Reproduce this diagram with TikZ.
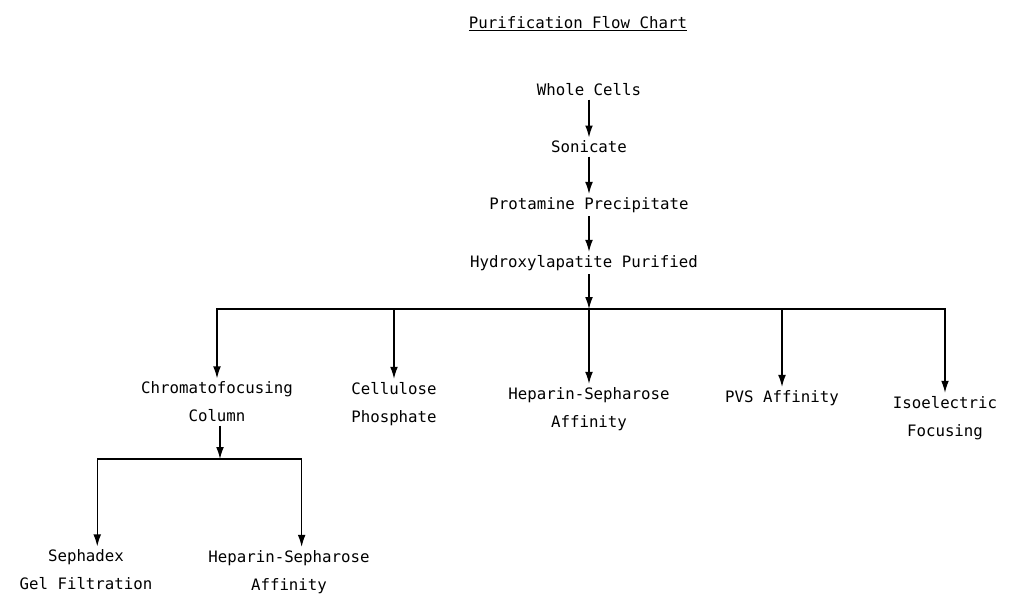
\documentclass[tikz,border=0pt]{standalone}
\usepackage{fontspec}
\setmonofont{DejaVu Sans Mono}
\usetikzlibrary{arrows.meta}

\begin{document}
\begin{tikzpicture}[x=0.025cm, y=-0.025cm, >={Latex[length=8.5pt,width=5.5pt]}, line width=0.9pt,
    step node/.style={font=\ttfamily\fontsize{11.2}{20}\selectfont, align=center, inner sep=2pt}]

    \useasboundingbox (0,0) rectangle (1020,598);

    \node[step node] at (578, 24) (title) {\underline{Purification Flow Chart}};

    \node[step node] at (589, 90) (whole) {Whole Cells};
    \node[step node] at (589, 147) (son) {Sonicate};
    \node[step node] at (589, 205) (prot) {Protamine Precipitate};
    \node[step node] at (584, 263) (hyd) {Hydroxylapatite Purified};

    \node[step node] at (217, 402) (chrom) {Chromatofocusing\\Column};
    \node[step node] at (394, 404) (cell) {Cellulose\\Phosphate};
    \node[step node] at (589, 409) (hep) {Heparin-Sepharose\\Affinity};
    \node[step node] at (782, 398) (pvs) {PVS Affinity};
    \node[step node] at (945, 418) (iso) {Isoelectric\\Focusing};

    \node[step node] at (86, 570) (seph) {Sephadex\\Gel Filtration};
    \node[step node] at (289, 572) (hep2) {Heparin-Sepharose\\Affinity};

    \coordinate (split) at (589, 309);
    \coordinate (split2) at (220, 459);

    \path[->] (whole) edge (son);
    \path[->] (son) edge (prot);
    \path[->] (prot.south -| son) edge (hyd.north -| son);
    \path[->] (hyd.south -| son) edge (split);

    \draw[->] (split) -| (chrom);
    \draw[->] (split) -| (cell);
    \draw[->] (split) -- (hep);
    \draw[->] (split) -| (pvs);
    \draw[->] (split) -| (iso);

    \draw[->] (chrom.south -| split2) -- (split2);
    \draw[->] (split2) -| ([xshift=8pt]seph.north);
    \draw[->] (split2) -| ([xshift=9pt]hep2.north);

\end{tikzpicture}
\end{document}
